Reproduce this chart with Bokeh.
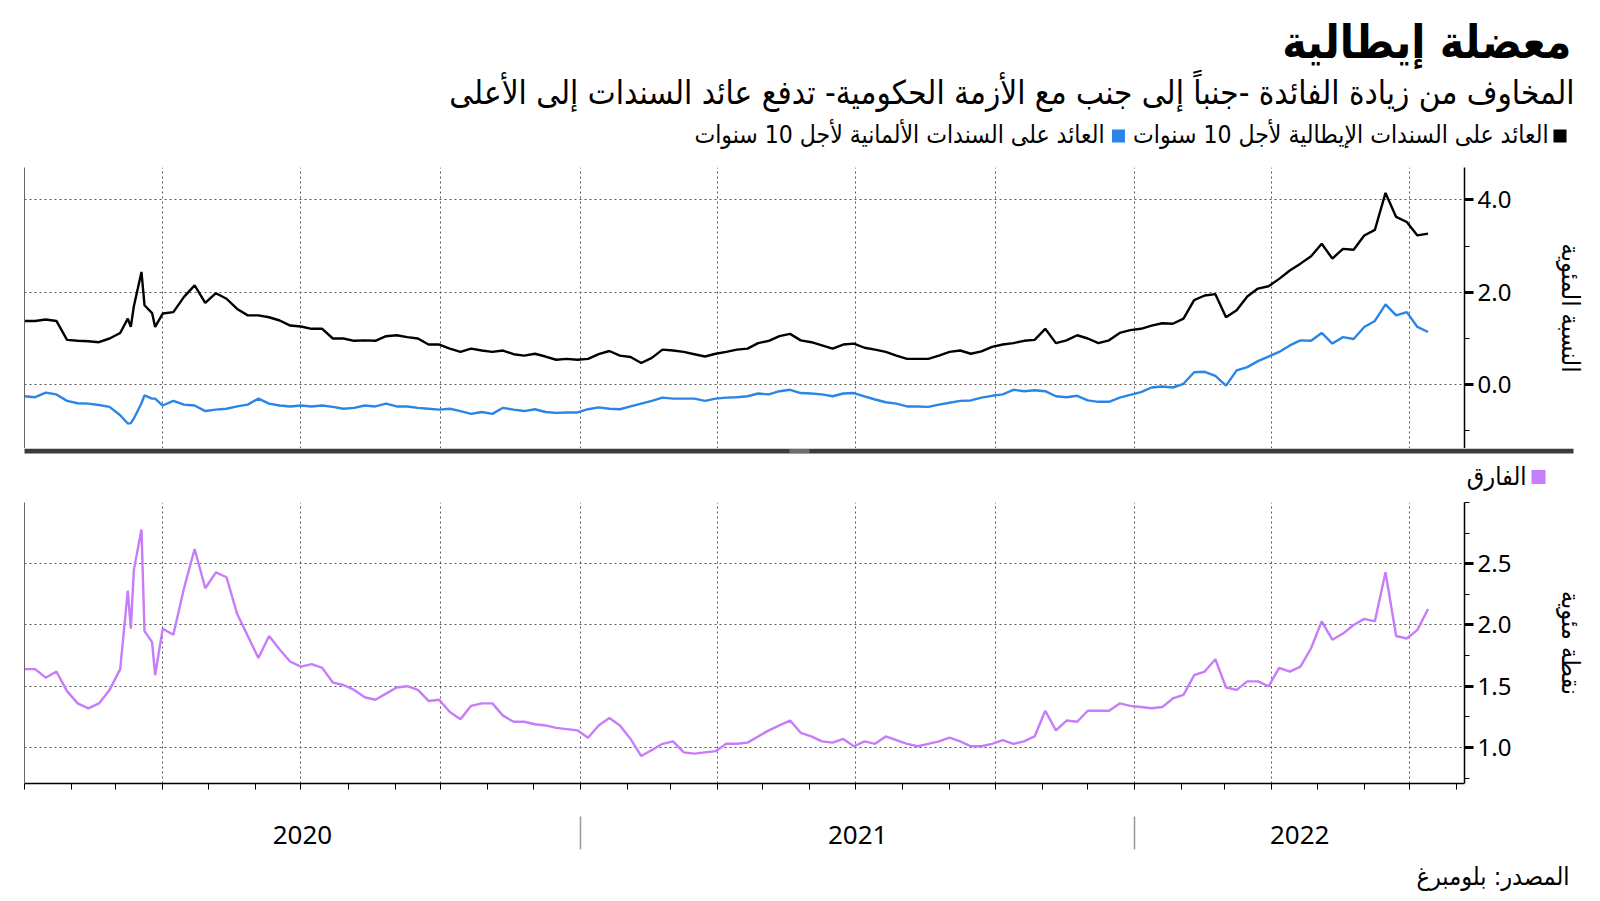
import pandas as pd
from bokeh.plotting import figure
from bokeh.models import (Range1d, FixedTicker, MonthsTicker, LinearAxis, Grid,
                          NumeralTickFormatter, DatetimeTickFormatter)
from bokeh.layouts import column
from bokeh.embed import file_html
from bokeh.resources import INLINE
from bokeh.core.properties import value

# ---------------- data (mostly weekly) ----------------
early_dates = list(pd.date_range("2020-01-01", periods=10, freq="7D"))
march_2020 = [pd.Timestamp(d) for d in ["2020-03-09", "2020-03-11", "2020-03-13", "2020-03-18",
                                         "2020-03-20", "2020-03-25", "2020-03-27"]]
later_dates = list(pd.date_range("2020-04-01", periods=120, freq="7D"))
dates = early_dates + march_2020 + later_dates

italy_10y = [1.38, 1.38, 1.41, 1.38, 0.97, 0.95, 0.94, 0.92, 1.00, 1.12,
             1.43, 1.25, 1.70, 2.44, 1.72, 1.55, 1.25,
             1.54, 1.57, 1.90, 2.15, 1.77, 1.98, 1.86,
             1.64, 1.50, 1.50, 1.46, 1.39, 1.28, 1.26, 1.21, 1.21, 1.00,
             1.00, 0.95, 0.96, 0.95, 1.05, 1.07, 1.03, 1.00, 0.87, 0.87,
             0.78, 0.71, 0.78, 0.74, 0.71, 0.74, 0.66, 0.63, 0.67, 0.61,
             0.54, 0.56, 0.54, 0.56, 0.66, 0.73, 0.63, 0.60, 0.47, 0.58,
             0.76, 0.74, 0.71, 0.66, 0.61, 0.67, 0.71, 0.76, 0.78, 0.90,
             0.95, 1.05, 1.10, 0.96, 0.92, 0.85, 0.78, 0.87, 0.89, 0.80,
             0.76, 0.71, 0.63, 0.56, 0.56, 0.56, 0.63, 0.71, 0.74, 0.67,
             0.72, 0.82, 0.87, 0.90, 0.95, 0.97, 1.21, 0.90, 0.96, 1.07,
             1.00, 0.90, 0.96, 1.12, 1.18, 1.21, 1.28, 1.33, 1.32, 1.43,
             1.83, 1.93, 1.96, 1.46, 1.61, 1.91, 2.08, 2.13, 2.29, 2.47,
             2.62, 2.78, 3.05, 2.73, 2.94, 2.92, 3.23, 3.35, 4.15, 3.63,
             3.52, 3.23, 3.27]

germany_10y = [-0.25, -0.27, -0.17, -0.21, -0.35, -0.40, -0.41, -0.44, -0.48, -0.66,
               -0.84, -0.83, -0.73, -0.40, -0.23, -0.30, -0.30,
               -0.45, -0.35, -0.43, -0.45, -0.57, -0.54, -0.52,
               -0.47, -0.43, -0.30, -0.41, -0.45, -0.47, -0.45, -0.47, -0.45, -0.48,
               -0.52, -0.50, -0.45, -0.47, -0.41, -0.47, -0.47, -0.50, -0.52, -0.54,
               -0.52, -0.57, -0.63, -0.59, -0.63, -0.50, -0.54, -0.57, -0.53, -0.59,
               -0.61, -0.60, -0.60, -0.53, -0.49, -0.52, -0.53, -0.47, -0.41, -0.35,
               -0.28, -0.30, -0.30, -0.30, -0.35, -0.30, -0.28, -0.27, -0.25, -0.19,
               -0.21, -0.14, -0.11, -0.18, -0.19, -0.21, -0.25, -0.19, -0.18, -0.25,
               -0.32, -0.38, -0.41, -0.47, -0.47, -0.48, -0.43, -0.39, -0.35, -0.34,
               -0.28, -0.24, -0.21, -0.11, -0.14, -0.12, -0.14, -0.25, -0.27, -0.24,
               -0.34, -0.37, -0.37, -0.28, -0.22, -0.16, -0.06, -0.04, -0.06, 0.02,
               0.27, 0.28, 0.19, -0.02, 0.31, 0.38, 0.51, 0.61, 0.71, 0.85,
               0.96, 0.95, 1.12, 0.89, 1.03, 0.99, 1.25, 1.38, 1.74, 1.50,
               1.57, 1.25, 1.14]

spread = [1.64, 1.64, 1.57, 1.62, 1.46, 1.36, 1.32, 1.36, 1.47, 1.64,
          2.28, 1.97, 2.45, 2.78, 1.95, 1.86, 1.59,
          1.97, 1.92, 2.30, 2.62, 2.30, 2.43, 2.39,
          2.09, 1.91, 1.73, 1.91, 1.80, 1.70, 1.66, 1.68, 1.65, 1.53,
          1.51, 1.47, 1.41, 1.39, 1.44, 1.49, 1.50, 1.47, 1.38, 1.39,
          1.29, 1.23, 1.34, 1.36, 1.36, 1.26, 1.21, 1.21, 1.19, 1.18,
          1.16, 1.15, 1.14, 1.08, 1.18, 1.24, 1.18, 1.07, 0.93, 0.98,
          1.03, 1.05, 0.96, 0.95, 0.96, 0.97, 1.03, 1.03, 1.04, 1.09,
          1.14, 1.18, 1.22, 1.12, 1.09, 1.05, 1.04, 1.07, 1.01, 1.05,
          1.03, 1.09, 1.06, 1.03, 1.01, 1.03, 1.05, 1.08, 1.05, 1.01,
          1.01, 1.03, 1.06, 1.03, 1.05, 1.09, 1.30, 1.14, 1.22, 1.21,
          1.30, 1.30, 1.30, 1.36, 1.34, 1.33, 1.32, 1.33, 1.40, 1.43,
          1.59, 1.62, 1.72, 1.49, 1.47, 1.54, 1.54, 1.50, 1.65, 1.62,
          1.66, 1.81, 2.03, 1.88, 1.93, 2.00, 2.05, 2.03, 2.43, 1.91,
          1.89, 1.96, 2.13]

top_ticks = [0.0, 2.0, 4.0]
top_minor = [-1.0, 1.0, 3.0]
bot_ticks = [1.0, 1.5, 2.0, 2.5]
bot_minor = [0.75, 1.25, 1.75, 2.25, 2.75, 3.0]
years = ["2020", "2021", "2022"]

title = "معضلة إيطالية"
subtitle = "المخاوف من زيادة الفائدة -جنباً إلى جنب مع الأزمة الحكومية- تدفع عائد السندات إلى الأعلى"
leg_it = "العائد على السندات الإيطالية لأجل 10 سنوات"
leg_de = "العائد على السندات الألمانية لأجل 10 سنوات"
leg_sp = "الفارق"
ylab_top = "النسبة المئوية"
ylab_bot = "نقطة مئوية"
source = "المصدر: بلومبرغ"

# ---------------- styling ----------------
AR = "DejaVu Sans Condensed"
NUM = "Noto Sans"
BLACK = "#000000"
BLUE = "#2a86e6"
PURPLE = "#c77cf9"
GRID = "#555555"
W = 1590
X0 = pd.Timestamp("2020-01-01")
X1 = pd.Timestamp("2022-08-06")


def pixel_fig(w, h):
    f = figure(width=w, height=h, x_range=Range1d(0, w), y_range=Range1d(h, 0),
               x_axis_location=None, y_axis_location=None, min_border=0,
               output_backend="svg", toolbar_location=None)
    f.frame_align = False
    for g in f.grid:
        g.visible = False
    f.outline_line_color = None
    return f


def style_right_axis(ax):
    ax.axis_line_color = "black"
    ax.axis_line_width = 1.5
    ax.major_tick_line_color = "black"
    ax.major_tick_line_width = 3
    ax.major_tick_in = 0
    ax.major_tick_out = 9
    ax.minor_tick_line_color = "black"
    ax.minor_tick_line_width = 1
    ax.minor_tick_in = 0
    ax.minor_tick_out = 5
    ax.major_label_standoff = 4
    ax.major_label_text_font = NUM
    ax.major_label_text_font_size = "24px"
    ax.major_label_text_color = "black"
    ax.axis_label_text_font = AR
    ax.axis_label_text_font_size = "25px"
    ax.axis_label_text_font_style = "normal"
    ax.axis_label_text_color = "black"
    ax.axis_label_standoff = 42


def left_line(f):
    ax = LinearAxis(ticker=FixedTicker(ticks=[]), axis_line_color="#666666", axis_line_width=1,
                    major_tick_out=0, major_tick_in=0, minor_tick_out=0, minor_tick_in=0,
                    major_label_standoff=0)
    f.add_layout(ax, "left")


def add_grids(f, yticks):
    f.add_layout(Grid(dimension=1, ticker=FixedTicker(ticks=yticks), grid_line_color=GRID,
                      grid_line_dash="2 3", grid_line_width=1))
    # MonthsTicker months are 0-based: Jan, Apr, Jul, Oct
    f.add_layout(Grid(dimension=0, ticker=MonthsTicker(months=[0, 3, 6, 9]), grid_line_color=GRID,
                      grid_line_dash="2 3", grid_line_width=1))


def chart_fig(yr, bottom_border=0):
    f = figure(frame_width=1440, frame_height=281, x_range=x_range, y_range=yr,
               x_axis_location=None, y_axis_location=None, min_border_left=24, min_border_top=0,
               min_border_bottom=bottom_border, min_border_right=0,
               output_backend="svg", toolbar_location=None)
    f.frame_align = False
    for g in f.grid:
        g.visible = False
    f.outline_line_color = None
    return f


x_range = Range1d(start=X0, end=X1)

# ---------------- header ----------------
hdr = pixel_fig(W, 167)
hdr.text(x=[1571], y=[41], text=[title], text_align="right", text_baseline="middle",
         text_font=value(AR), text_font_size="46px", text_font_style="bold", text_color="black")
hdr.text(x=[1574], y=[92], text=[subtitle], text_align="right", text_baseline="middle",
         text_font=value(AR), text_font_size="33px", text_color="black")
hdr.scatter(x=[1559.5, 1118], y=[135.5, 135.5], marker="square", size=13,
            fill_color=[BLACK, BLUE], line_color=None)
hdr.text(x=[1548, 1104], y=[134, 134], text=[leg_it, leg_de], text_align="right",
         text_baseline="middle", text_font=value(AR), text_font_size="24.5px", text_color="black")

# ---------------- top chart ----------------
top = chart_fig(Range1d(-1.38, 4.70))
add_grids(top, top_ticks)
left_line(top)
ra = LinearAxis(ticker=FixedTicker(ticks=top_ticks, minor_ticks=top_minor),
                formatter=NumeralTickFormatter(format="0.0"), axis_label=ylab_top)
style_right_axis(ra)
top.add_layout(ra, "right")
top.line(dates, germany_10y, line_color=BLUE, line_width=2.4)
top.line(dates, italy_10y, line_color=BLACK, line_width=2.4)

# ---------------- separator + spread legend ----------------
sep = pixel_fig(W, 54)
sep.quad(left=[24], right=[1573], top=[0], bottom=[5], fill_color="#3b3b3b", line_color=None)
sep.segment(x0=[789, 789], y0=[1.5, 3.5], x1=[809, 809], y1=[1.5, 3.5], line_color="#a0a0a0", line_width=1)
sep.scatter(x=[1538], y=[28.5], marker="square", size=14, fill_color=PURPLE, line_color=None)
sep.text(x=[1526], y=[28], text=[leg_sp], text_align="right", text_baseline="middle",
         text_font=value(AR), text_font_size="25px", text_color="black")

# ---------------- bottom chart ----------------
bot = chart_fig(Range1d(0.706, 3.0), bottom_border=80)
add_grids(bot, bot_ticks)
left_line(bot)
rb = LinearAxis(ticker=FixedTicker(ticks=bot_ticks, minor_ticks=bot_minor),
                formatter=NumeralTickFormatter(format="0.0"), axis_label=ylab_bot)
style_right_axis(rb)
bot.add_layout(rb, "right")

# year labels centred in each year's visible span; monthly ticks as minor ticks
span_starts = [max(pd.Timestamp(f"{y}-01-01"), X0) for y in years]
span_ends = [min(pd.Timestamp(f"{int(y) + 1}-01-01"), X1) for y in years]
year_mid_ms = [((a.value + b.value) / 2) / 1e6 for a, b in zip(span_starts, span_ends)]
year_bound_ms = [pd.Timestamp(f"{y}-01-01").value / 1e6 for y in years[1:]]
month_ms = [t.value / 1e6 for t in pd.date_range(X0, X1, freq="MS")]
year_fmt = DatetimeTickFormatter(days="%Y", months="%Y", years="%Y", hours="%Y", minutes="%Y",
                                 seconds="%Y", milliseconds="%Y", microseconds="%Y",
                                 minsec="%Y", hourmin="%Y")
xa = LinearAxis(ticker=FixedTicker(ticks=year_mid_ms, minor_ticks=month_ms), formatter=year_fmt,
                axis_line_color="black", axis_line_width=1.5,
                major_tick_line_color=None, major_tick_in=0, major_tick_out=0,
                minor_tick_line_color="black", minor_tick_line_width=1, minor_tick_in=0, minor_tick_out=6,
                major_label_standoff=36, major_label_text_font=NUM, major_label_text_font_size="26px",
                major_label_text_color="black")
bot.add_layout(xa, "below")
sa = LinearAxis(ticker=FixedTicker(ticks=[], minor_ticks=year_bound_ms), axis_line_color=None,
                major_tick_line_color=None, major_tick_in=0, major_tick_out=0,
                minor_tick_line_color="#999999", minor_tick_line_width=1.5,
                minor_tick_in=30, minor_tick_out=3, major_label_standoff=0)
bot.add_layout(sa, "below")
bot.line(dates, spread, line_color=PURPLE, line_width=2.4)

# ---------------- footer ----------------
ftr = pixel_fig(W, 30)
ftr.text(x=[1569], y=[13], text=[source], text_align="right", text_baseline="middle",
         text_font=value(AR), text_font_size="25px", text_color="black")

layout = column(hdr, top, sep, bot, ftr, spacing=0)
open("out.html", "w").write(file_html(layout, INLINE))
